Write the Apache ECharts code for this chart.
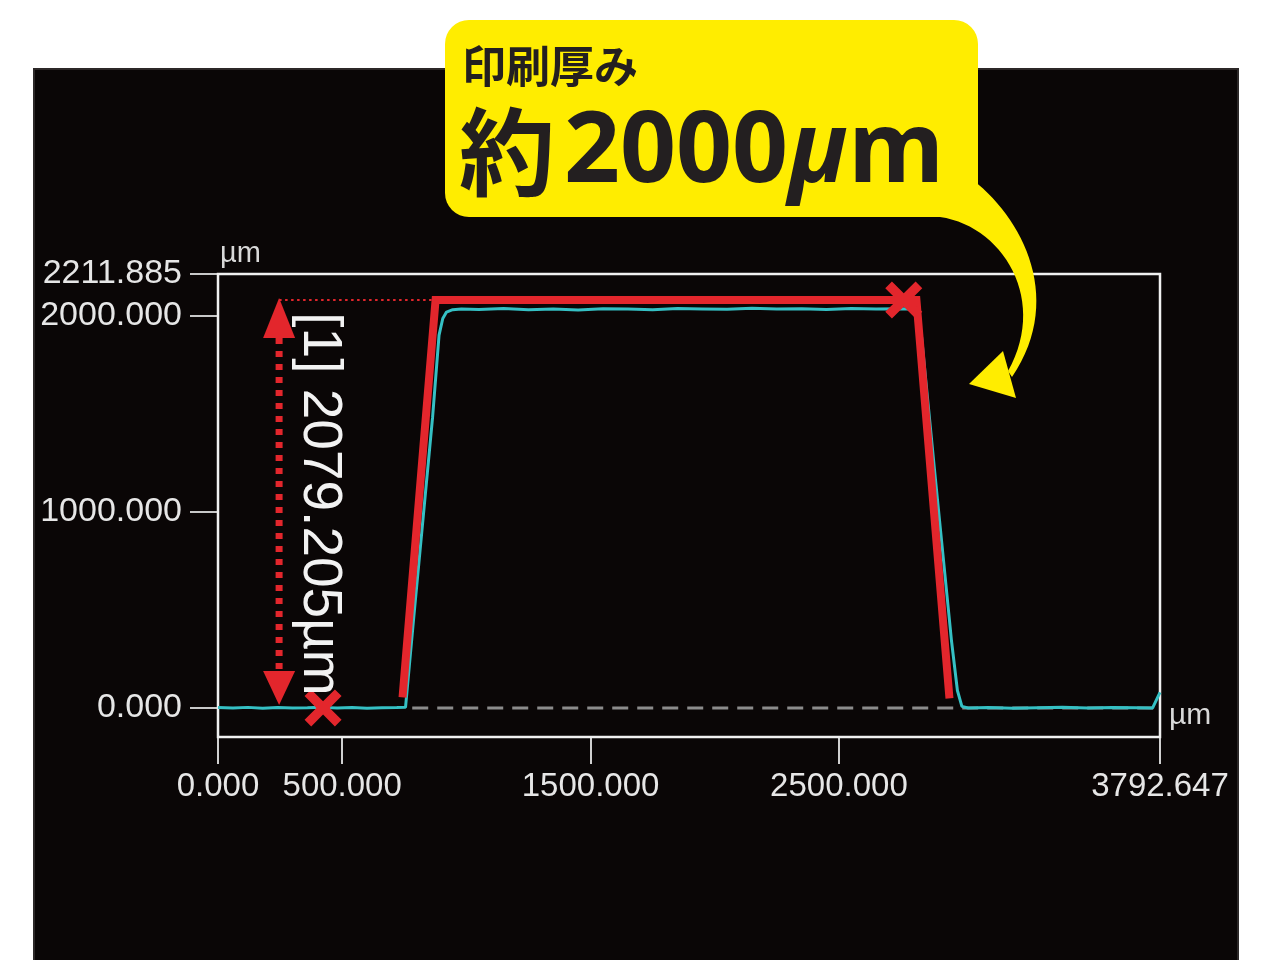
<!DOCTYPE html>
<html><head><meta charset="utf-8">
<script src="https://cdn.jsdelivr.net/npm/echarts@6/dist/echarts.min.js"></script>
<style>html,body{margin:0;padding:0;background:#fff}#c{width:1267px;height:960px}</style>
</head><body><div id="c"></div>
<script>
// ---- data ----
const xTicks = [0, 500, 1500, 2500, 3792.647];
const yTicks = [0, 1000, 2000, 2211.885];
const xMax = 3792.647;
const yMax = 2211.885;
const yMin = -148;

// measured profile (cyan)
const profileX = [0, 60, 120, 180, 240, 300, 360, 420, 480, 540, 600, 660, 720, 755, 787, 864, 890, 905, 920, 945, 980,
  1050, 1150, 1250, 1350, 1450, 1550, 1650, 1750, 1850, 1950, 2050, 2150, 2250, 2350, 2450, 2550, 2650, 2750, 2800,
  2818, 2832, 2885, 2953, 2977, 2995, 3020, 3100, 3200, 3300, 3400, 3500, 3600, 3700, 3763, 3792.647];
const profileY = [2, 0, 3, -1, 2, 0, 1, 3, 0, 2, -1, 1, 2, 3, 447, 1482, 1900, 1985, 2018, 2030, 2034,
  2031, 2036, 2030, 2034, 2029, 2035, 2033, 2030, 2036, 2034, 2032, 2037, 2033, 2035, 2031, 2036, 2034, 2035, 2034,
  2010, 1900, 1211, 344, 89, 8, 0, 2, -1, 1, 3, 0, 2, 1, 0, 80];

// fitted step outline (red)
const fitX = [743, 876, 2812, 2945];
const fitY = [54, 2079.205, 2079.205, 49];

// cursor markers (red X)
const markerX = [423, 2761];
const markerY = [0, 2079.205];

// height measurement
const measureX = 246;
const measureValue = 2079.205;

// reference baseline (grey dashed)
const baseX = [782, 3792.647];
const baseY = [0, 0];

// callout
const calloutTitle = '印刷厚み';
const calloutPrefix = '約';
const calloutValue = '2000';

const zip = (a, b) => a.map((v, i) => [v, b[i]]);
const RED = '#e3262c';
const fmt = v => Number(v).toFixed(3);

// tail of callout (tapered curve)
function bez(p0, p1, p2, p3, t) {
  const u = 1 - t;
  return [
    u*u*u*p0[0] + 3*u*u*t*p1[0] + 3*u*t*t*p2[0] + t*t*t*p3[0],
    u*u*u*p0[1] + 3*u*u*t*p1[1] + 3*u*t*t*p2[1] + t*t*t*p3[1]
  ];
}
const tailPts = [];
for (let i = 0; i <= 30; i++) tailPts.push(bez([973,180],[1024,220],[1064,300],[1012,377], i/30));
for (let i = 30; i >= 0; i--) tailPts.push(bez([940,217],[1003,226],[1048,300],[1008,371], i/30));

const chart = echarts.init(document.getElementById('c'));
chart.setOption({
  backgroundColor: '#ffffff',
  animation: false,
  grid: { left: 218, right: 107, top: 274, bottom: 223, show: true, borderColor: '#f0f0f0', borderWidth: 2.5, backgroundColor: 'transparent', z: 1 },
  xAxis: {
    type: 'value', min: 0, max: xMax,
    axisLine: { show: false, onZero: false },
    splitLine: { show: false },
    axisTick: { show: true, customValues: xTicks, length: 27, lineStyle: { color: '#d0d0d0', width: 2 } },
    axisLabel: { customValues: xTicks, formatter: fmt, margin: 33, color: '#e6e6e6', fontSize: 33, fontFamily: 'Liberation Sans' },
    name: 'µm', nameLocation: 'end', nameGap: 9,
    nameTextStyle: { color: '#d8d8d8', fontSize: 30, fontFamily: 'Liberation Sans', align: 'left', verticalAlign: 'bottom', lineHeight: 30, padding: [0, 0, 6, 0] }
  },
  yAxis: {
    type: 'value', min: yMin, max: yMax,
    axisLine: { show: false, onZero: false },
    splitLine: { show: false },
    axisTick: { show: true, customValues: yTicks, length: 28, lineStyle: { color: '#c8c8c8', width: 2 } },
    axisLabel: { customValues: yTicks, formatter: fmt, margin: 36, color: '#e6e6e6', fontSize: 34, fontFamily: 'Liberation Sans' },
    name: 'µm', nameLocation: 'end', nameGap: 6,
    nameTextStyle: { color: '#d8d8d8', fontSize: 29, fontFamily: 'Liberation Sans', align: 'left', padding: [0, 0, 0, 2] }
  },
  graphic: { elements: [
    { type: 'rect', z: -10, shape: { x: 34, y: 69, width: 1204, height: 900 }, style: { fill: '#0a0606', stroke: '#2c2828', lineWidth: 2 } },
    { type: 'polygon', z: 100, shape: { points: tailPts }, style: { fill: '#ffed00' } },
    { type: 'polygon', z: 100, shape: { points: [[969,384],[1003,351],[1016,398]] }, style: { fill: '#ffed00' } },
    { type: 'rect', z: 100, shape: { x: 445, y: 20, width: 533, height: 197, r: 24 }, style: { fill: '#ffed00' } },
    { type: 'text', z: 101, x: 462, y: 66, style: { text: calloutTitle, fill: '#231f20', fontSize: 44, fontWeight: 'bold', fontFamily: 'Noto Sans CJK JP', verticalAlign: 'middle' } },
    { type: 'text', z: 101, x: 507, y: 152, style: { text: calloutPrefix, fill: '#231f20', fontSize: 96, fontWeight: 'bold', fontFamily: 'Noto Sans CJK JP', align: 'center', verticalAlign: 'middle' } },
    { type: 'text', z: 101, x: 564, y: 154, style: {
        text: '{d|' + calloutValue + '}{u|μ}{d|m}', verticalAlign: 'middle',
        rich: {
          d: { fill: '#231f20', fontSize: 98, fontWeight: 'bold', fontFamily: 'Open Sans' },
          u: { fill: '#231f20', fontSize: 98, fontWeight: 'bold', fontStyle: 'italic', fontFamily: 'Open Sans' }
        } } }
  ] },
  series: [
    { type: 'line', data: zip(baseX, baseY), symbol: 'none', z: 2,
      lineStyle: { color: '#8c8c8c', width: 3, type: [16, 9] } },
    { type: 'line', data: zip(profileX, profileY), symbol: 'none', z: 3,
      lineStyle: { color: '#35c0c4', width: 3 } },
    { type: 'line', data: zip(fitX, fitY), symbol: 'none', z: 4,
      lineStyle: { color: RED, width: 8, join: 'miter' } },
    { type: 'scatter', data: zip(markerX, markerY), z: 5, symbolSize: 37,
      symbol: 'path://M0 1.8L1.8 0L5 3.2L8.2 0L10 1.8L6.8 5L10 8.2L8.2 10L5 6.8L1.8 10L0 8.2L3.2 5Z',
      itemStyle: { color: RED, opacity: 1 } },
    { type: 'custom', z: 6, clip: false,
      data: [[measureX, 0, measureValue]],
      encode: { x: 0, y: [1, 2] },
      renderItem: function (params, api) {
        const x = api.value(0), y0 = api.value(1), y1 = api.value(2);
        const b = api.coord([x, y0]);
        const t = api.coord([x, y1]);
        const cornerX = api.coord([fitX[1], y1])[0];
        return { type: 'group', children: [
          { type: 'line', shape: { x1: t[0], y1: t[1] + 38, x2: t[0], y2: b[1] - 36 }, style: { stroke: RED, lineWidth: 7, lineDash: [6, 7] } },
          { type: 'polygon', shape: { points: [[t[0], t[1] - 2], [t[0] - 16, t[1] + 38], [t[0] + 16, t[1] + 38]] }, style: { fill: RED } },
          { type: 'polygon', shape: { points: [[b[0], b[1] - 3], [b[0] - 16, b[1] - 37], [b[0] + 16, b[1] - 37]] }, style: { fill: RED } },
          { type: 'line', shape: { x1: t[0], y1: t[1], x2: cornerX - 4, y2: t[1] }, style: { stroke: RED, lineWidth: 2, lineDash: [2.5, 3.5] } },
          { type: 'text', x: t[0] + 40, y: (t[1] + b[1]) / 2, rotation: -Math.PI / 2,
            style: { text: '[1] ' + fmt(y1) + 'µm', fill: '#f2f2f2', fontSize: 55, fontFamily: 'Liberation Sans', align: 'center', verticalAlign: 'middle' } }
        ] };
      } }
  ]
});
</script></body></html>
